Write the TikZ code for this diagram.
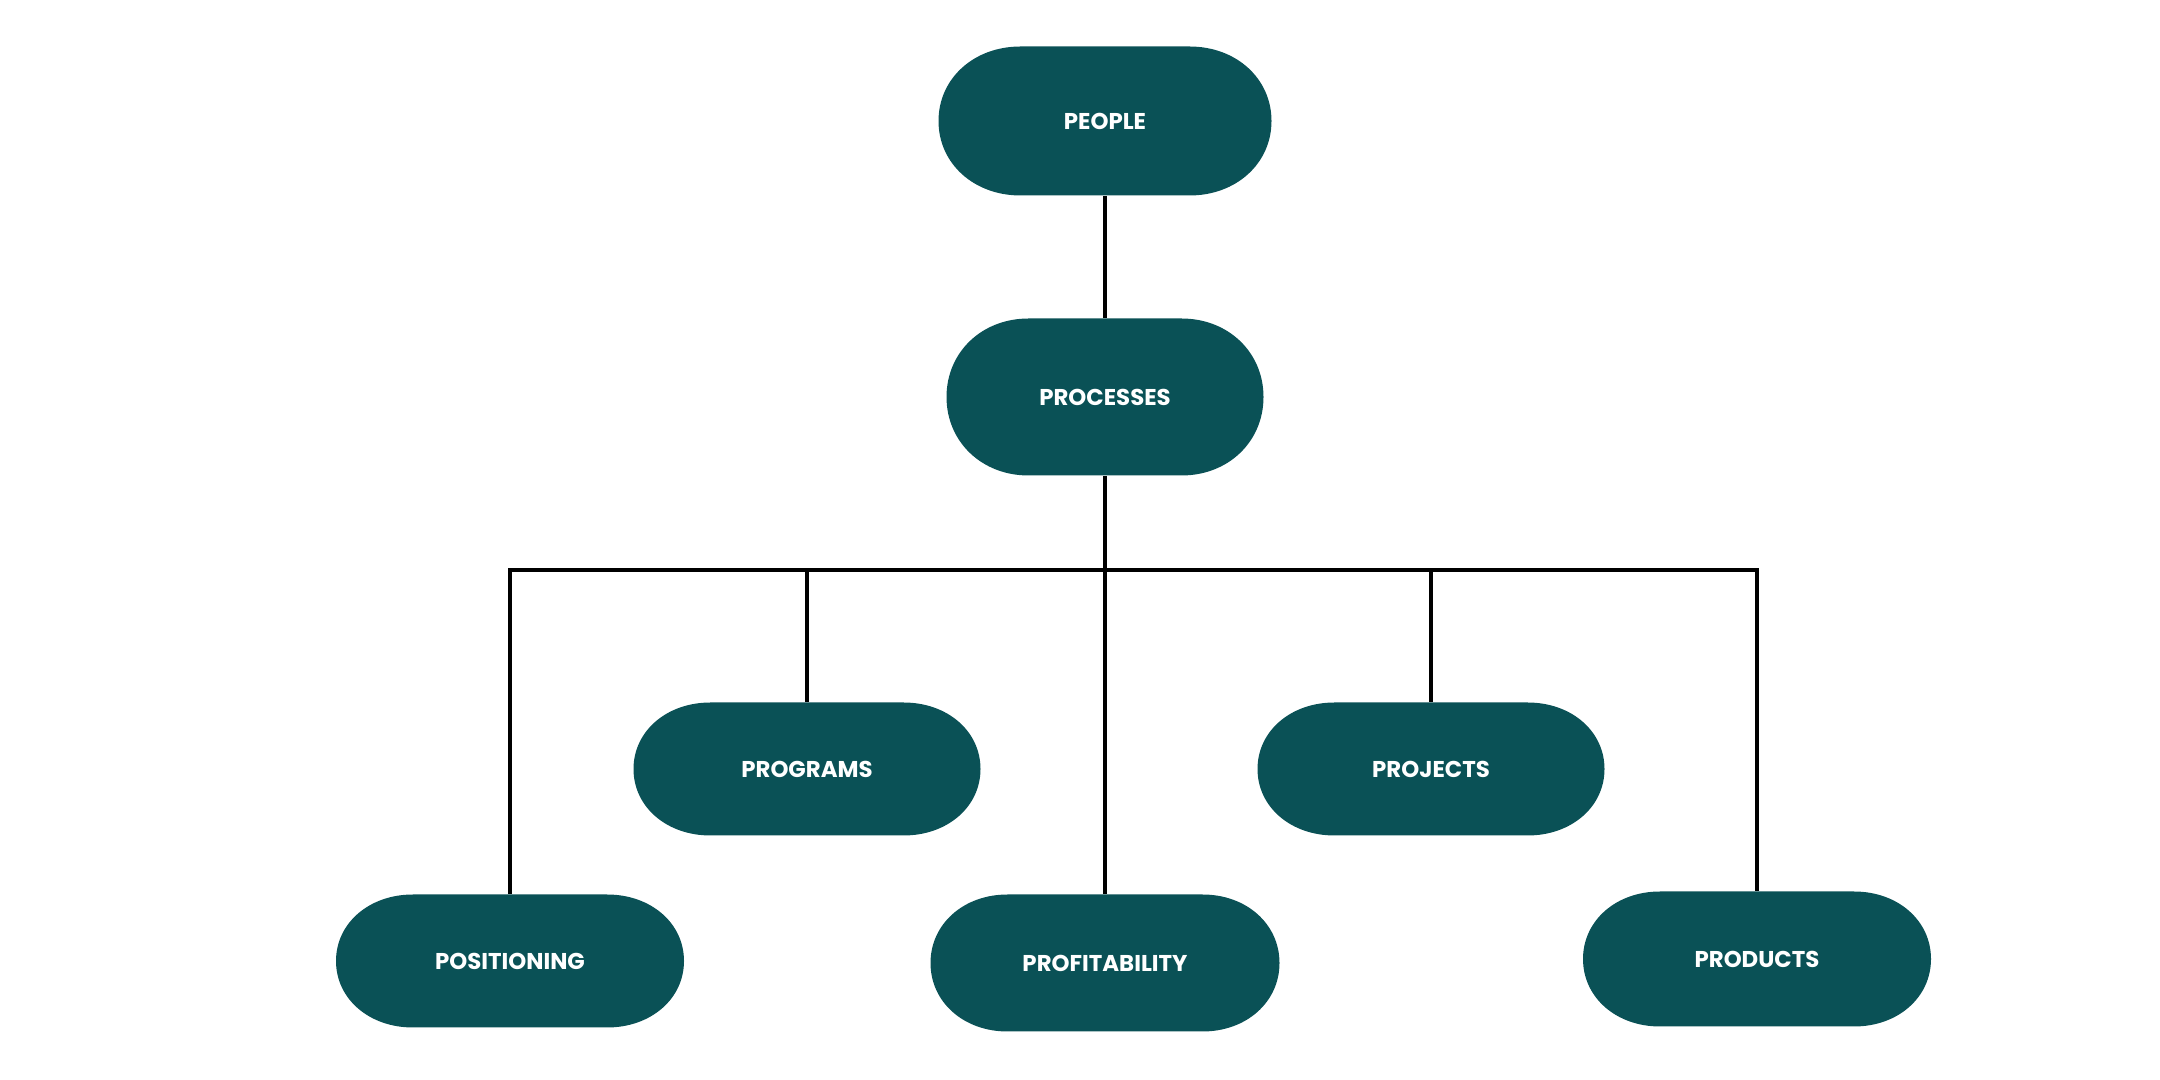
\documentclass[tikz,border=0pt]{standalone}
\usepackage{fontspec}
\setmainfont{Poppins}
\definecolor{teal}{HTML}{0A5156}
\tikzset{
  txt/.style={draw=none,rectangle,text=white,
    font=\fontsize{6.5pt}{8pt}\selectfont\bfseries,inner sep=0pt},
  conn/.style={draw=black,line width=0.04cm}}
% #1 name, #2 cx, #3 cy, #4 width, #5 height, #6 end x-radius, #7 text
\newcommand{\pillnode}[7]{%
  \pgfmathsetmacro{\pL}{#2-#4/2}\pgfmathsetmacro{\pR}{#2+#4/2}%
  \pgfmathsetmacro{\pT}{#3-#5/2}\pgfmathsetmacro{\pB}{#3+#5/2}%
  \pgfmathsetmacro{\pLi}{\pL+#6}\pgfmathsetmacro{\pRi}{\pR-#6}%
  \pgfmathsetmacro{\pLk}{\pL+0.43*#6}\pgfmathsetmacro{\pRk}{\pR-0.43*#6}%
  \pgfmathsetmacro{\pTk}{#3-0.57*#5/2}\pgfmathsetmacro{\pBk}{#3+0.57*#5/2}%
  \fill[teal] (\pLi,\pT) -- (\pRi,\pT)
    .. controls (\pRk,\pT) and (\pR,\pTk) .. (\pR,#3)
    .. controls (\pR,\pBk) and (\pRk,\pB) .. (\pRi,\pB)
    -- (\pLi,\pB)
    .. controls (\pLk,\pB) and (\pL,\pBk) .. (\pL,#3)
    .. controls (\pL,\pTk) and (\pLk,\pT) .. (\pLi,\pT) -- cycle;
  \node[txt,minimum width=#4*0.01cm,minimum height=#5*0.01cm] (#1) at (#2,#3) {#7};}
\begin{document}
\begin{tikzpicture}[x=0.01cm,y=-0.01cm]
\useasboundingbox (0,0) rectangle (2160,1080);
\pillnode{people}{1105}{121}{333}{149}{82}{PEOPLE}
\pillnode{processes}{1105}{397}{317}{157}{82}{PROCESSES}
\pillnode{programs}{807}{769}{347}{133}{77}{PROGRAMS}
\pillnode{projects}{1431}{769}{347}{133}{77}{PROJECTS}
\pillnode{positioning}{510}{961}{348}{133}{77}{POSITIONING}
\pillnode{profitability}{1105}{963}{349}{137}{77}{PROFITABILITY}
\pillnode{products}{1757}{959}{348}{135}{77}{PRODUCTS}
\coordinate (bus) at (1105,570);
\draw[conn] (people.south) -- (processes.north);
\draw[conn] (processes.south) -- (bus);
\draw[conn] (positioning.north) |- (bus) -| (products.north);
\draw[conn] (bus) -- (profitability.north);
\draw[conn] (programs.north |- bus) -- (programs.north);
\draw[conn] (projects.north |- bus) -- (projects.north);
\end{tikzpicture}
\end{document}
